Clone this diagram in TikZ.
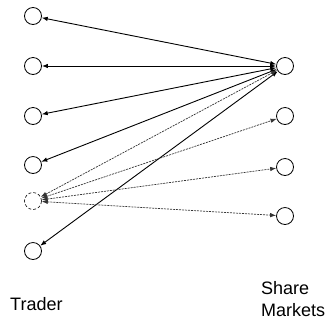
\documentclass[tikz,border=0pt]{standalone}
\usepackage{fontspec}
\setmainfont{Liberation Sans}
\usetikzlibrary{arrows.meta}
\begin{document}
\begin{tikzpicture}[x=1pt,y=-1pt,
  pt/.style={circle,draw,line width=0.8pt,minimum size=17pt,inner sep=0pt},
  dpt/.style={pt,densely dashed,line width=0.6pt},
  sarr/.style={{Latex[length=6pt,width=4.5pt]}-{Latex[length=6pt,width=4.5pt]},line width=0.9pt},
  darr/.style={{Latex[length=6pt,width=4.5pt]}-{Latex[length=6pt,width=4.5pt]},line width=0.7pt,black!80,dash pattern=on 2pt off 1pt},
  lbl/.style={font=\fontsize{18}{22}\selectfont,inner sep=0pt,anchor=base west}]
\useasboundingbox (0,0) rectangle (328,322);
\node[pt] (L1) at (33,16) {};
\node[pt] (L2) at (33,66) {};
\node[pt] (L3) at (33,116) {};
\node[pt] (L4) at (33,165) {};
\node[dpt] (L5) at (33,201) {};
\node[pt] (L6) at (33,251) {};
\node[pt] (R1) at (285,66) {};
\node[pt] (R2) at (285,116) {};
\node[pt] (R3) at (285,167) {};
\node[pt] (R4) at (285,216) {};
\draw[sarr] (L1) -- (R1);
\draw[sarr] (L2) -- (R1);
\draw[sarr] (L3) -- (R1);
\draw[sarr] (L4) -- (R1);
\draw[sarr] (L6) -- (R1);
\draw[darr] (L5) -- (R1);
\draw[darr] (L5) -- (R2);
\draw[darr] (L5) -- (R3);
\draw[darr] (L5) -- (R4);
\node[lbl] (trader) at (10,310) {Trader};
\node[lbl] (share) at (261,294) {Share};
\node[lbl] (markets) at (261,316) {Markets};
\end{tikzpicture}
\end{document}
